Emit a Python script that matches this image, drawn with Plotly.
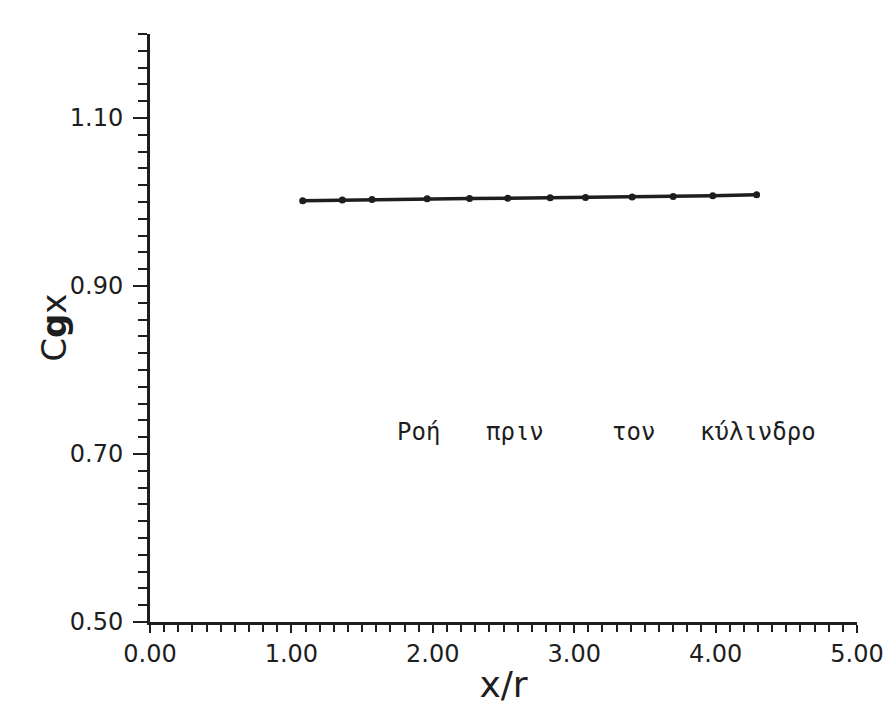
import plotly.graph_objects as go

# Data
x_r = [1.08, 1.36, 1.57, 1.96, 2.26, 2.53, 2.83, 3.08, 3.41, 3.70, 3.98, 4.29]
cgx = [1.0015, 1.0023, 1.0031, 1.0038, 1.0042, 1.0046, 1.0050, 1.0054, 1.0061, 1.0066, 1.0073, 1.0085]

x_ticks = [0, 1, 2, 3, 4, 5]
x_tick_labels = ["0.00", "1.00", "2.00", "3.00", "4.00", "5.00"]
y_ticks = [0.5, 0.7, 0.9, 1.1]
y_tick_labels = ["0.50", "0.70", "0.90", "1.10"]

annotation_text = "Ροή πριν τον κύλινδρο"
annotation_words = annotation_text.split(" ")
word_x = [1.90, 2.58, 3.42, 4.30]   # placement of each word (data x)
word_y = 0.726

ink = "#1e1e1e"

fig = go.Figure()
fig.add_trace(go.Scatter(
    x=x_r, y=cgx, mode="lines+markers",
    line=dict(color=ink, width=3.5),
    marker=dict(color=ink, size=7),
    showlegend=False,
))

axis_font = dict(family="DejaVu Sans", size=24, color=ink)

annotations = [dict(
    x=wx, y=word_y, xref="x", yref="y", text=w, showarrow=False,
    xanchor="center", yanchor="middle",
    font=dict(family="DejaVu Sans Mono", size=24, color=ink),
) for w, wx in zip(annotation_words, word_x)]

annotations.append(dict(
    x=-0.136, y=0.5, xref="paper", yref="paper", text="C<b>g</b>x",
    textangle=-90, showarrow=False, xanchor="center", yanchor="middle",
    font=dict(family="DejaVu Sans", size=34, color=ink),
))

fig.update_layout(
    width=895, height=709,
    margin=dict(l=142, r=46, t=26, b=95),
    paper_bgcolor="white", plot_bgcolor="white",
    xaxis=dict(
        range=[0, 5], showgrid=False, zeroline=False,
        showline=True, linecolor=ink, linewidth=3,
        tickmode="array", tickvals=x_ticks, ticktext=x_tick_labels,
        ticks="outside", ticklen=8, tickwidth=2, tickcolor=ink,
        minor=dict(dtick=0.1, tick0=0, ticks="outside", ticklen=7, tickwidth=2, tickcolor=ink),
        tickfont=axis_font, ticklabelstandoff=0,
        title=dict(text="x/r", font=dict(family="DejaVu Sans", size=36, color=ink), standoff=6),
    ),
    yaxis=dict(
        range=[0.5, 1.2], showgrid=False, zeroline=False,
        showline=True, linecolor=ink, linewidth=3,
        tickmode="array", tickvals=y_ticks, ticktext=y_tick_labels,
        ticks="outside", ticklen=14, tickwidth=2, tickcolor=ink,
        minor=dict(dtick=0.02, tick0=0.5, ticks="outside", ticklen=9, tickwidth=2, tickcolor=ink),
        tickfont=axis_font, ticklabelstandoff=5,
    ),
    annotations=annotations,
)

fig.write_html("out.html")
